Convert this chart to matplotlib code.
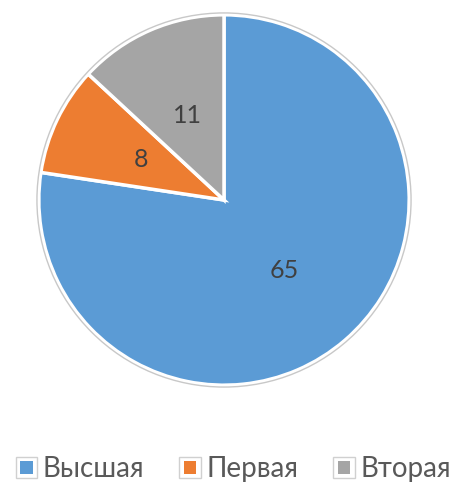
import matplotlib
matplotlib.use("Agg")
import matplotlib.pyplot as plt
from matplotlib.patches import Circle, Rectangle
from matplotlib.legend_handler import HandlerBase

categories = ["Высшая", "Первая", "Вторая"]
values = [65, 8, 11]
colors = ["#5B9BD5", "#ED7D31", "#A5A5A5"]

FONT = ["Lato", "Open Sans", "DejaVu Sans"]

W, H = 457, 482
fig = plt.figure(figsize=(W / 100, H / 100), dpi=100)
cx, cy, R = 224, 200, 188
ax = fig.add_axes([(cx - R) / W, 1 - (cy + R) / H, 2 * R / W, 2 * R / H])
ax.set_aspect("equal")
ax.axis("off")

total = sum(values)
wedges, texts, autotexts = ax.pie(
    values, colors=colors, startangle=90, counterclock=False, radius=0.985,
    autopct=lambda p: f"{round(p * total / 100):d}", pctdistance=0.5,
    wedgeprops=dict(edgecolor="white", linewidth=2.5),
    textprops=dict(color="#404040", fontsize=18, family=FONT))
ax.add_patch(Circle((0, 0), 0.995, fill=False, edgecolor="#C8C8C8", linewidth=1.0))
ax.set_xlim(-1, 1)
ax.set_ylim(-1, 1)


class BoxHandler(HandlerBase):
    def create_artists(self, legend, orig_handle, xdescent, ydescent, width, height, fontsize, trans):
        s = min(width, height)
        x0 = -xdescent + (width - s) / 2
        y0 = -ydescent + (height - s) / 2
        outer = Rectangle((x0, y0), s, s, facecolor="white", edgecolor="#D0D0D0",
                          linewidth=1.0, transform=trans)
        p = s * 0.2
        inner = Rectangle((x0 + p, y0 + p), s - 2 * p, s - 2 * p,
                          facecolor=orig_handle.get_facecolor(), edgecolor="none",
                          transform=trans)
        return [outer, inner]


leg = fig.legend(wedges, categories, loc="center", bbox_to_anchor=(0.51, 1 - 469 / H),
                 ncol=3, frameon=False, handlelength=0.8, handleheight=0.8,
                 handletextpad=0.18, columnspacing=1.25,
                 handler_map={type(wedges[0]): BoxHandler()},
                 prop=dict(family=FONT, size=20))
for t in leg.get_texts():
    t.set_color("#595959")

fig.savefig("out.png", dpi=100)
